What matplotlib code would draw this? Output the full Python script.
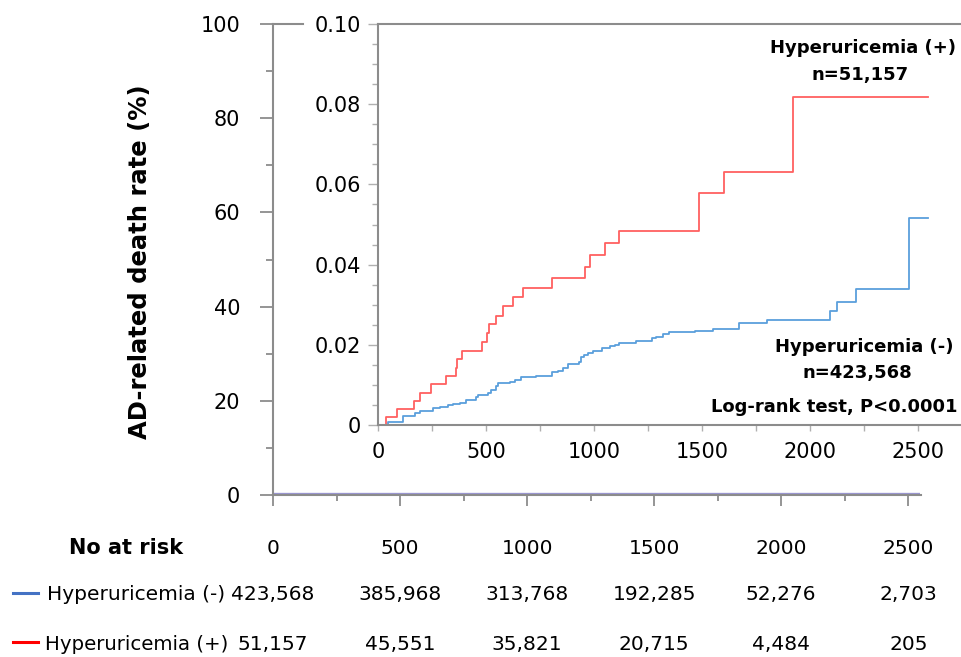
import matplotlib
matplotlib.use("Agg")
import matplotlib.pyplot as plt
from matplotlib.lines import Line2D
import matplotlib.transforms as mtransforms
import numpy as np

# ---- data (cumulative AD-related death rate, %) ----
red_t = [0, 37, 87, 168, 194, 245, 315, 361, 367, 388, 483, 503, 515, 545, 580, 624,
         673, 804, 958, 981, 1051, 1117, 1488, 1603, 1923, 2546]
red_v = [0, 0.0021, 0.0040, 0.0061, 0.0081, 0.0101, 0.0122, 0.0143, 0.0164, 0.0185,
         0.0208, 0.0229, 0.0251, 0.0273, 0.0297, 0.0319, 0.0342, 0.0367, 0.0395, 0.0423,
         0.0453, 0.0483, 0.0579, 0.0632, 0.0819, 0.0819]

blue_t = [0, 46, 116, 170, 193, 255, 286, 324, 347, 378, 409, 455, 463, 509, 524, 548,
          556, 610, 633, 663, 694, 733, 804, 835, 858, 881, 932, 940, 954, 974, 997,
          1036, 1074, 1097, 1117, 1194, 1267, 1287, 1318, 1349, 1468, 1550, 1673, 1802,
          2093, 2124, 2216, 2460, 2546]
blue_v = [0, 0.00082, 0.00232, 0.00292, 0.00349, 0.00416, 0.00456, 0.00499, 0.00524,
          0.00556, 0.00623, 0.00706, 0.00748, 0.00790, 0.00873, 0.00980, 0.01040,
          0.01065, 0.01122, 0.01190, 0.01205, 0.01230, 0.01314, 0.01354, 0.01414,
          0.01514, 0.01579, 0.01689, 0.01746, 0.01788, 0.01853, 0.01913, 0.01970,
          0.01995, 0.02052, 0.02102, 0.02162, 0.02202, 0.02269, 0.02311, 0.02344,
          0.02394, 0.02536, 0.02618, 0.02850, 0.03075, 0.03384, 0.05154, 0.05154]

risk_times = [0, 500, 1000, 1500, 2000, 2500]
risk_neg = ["423,568", "385,968", "313,768", "192,285", "52,276", "2,703"]
risk_pos = ["51,157", "45,551", "35,821", "20,715", "4,484", "205"]

outer_yticks = [0, 20, 40, 60, 80, 100]
inset_yticks = [0, 0.02, 0.04, 0.06, 0.08, 0.10]
inset_ylabels = ["0", "0.02", "0.04", "0.06", "0.08", "0.10"]
inset_xticks = [0, 500, 1000, 1500, 2000, 2500]

group_neg = "Hyperuricemia (-)"
group_pos = "Hyperuricemia (+)"
n_neg = "n=423,568"
n_pos = "n=51,157"
logrank = "Log-rank test, P<0.0001"

W, H = 961, 657
plt.rcParams['font.family'] = ['DejaVu Sans']
fig = plt.figure(figsize=(W / 100, H / 100), dpi=100)

def fx(px):
    return px / W

def fy(py):
    return 1 - py / H

spine_c = "#8c8c8c"

# ---- outer axes (0-100 %) ----
ax = fig.add_axes([fx(273), fy(495), fx(921) - fx(273), fy(24) - fy(495)])
ax.set_xlim(0, 2550)
ax.set_ylim(0, 100)
ax.step(blue_t, blue_v, where="post", color="#9a96d2", lw=3, solid_capstyle="butt")
ax.step(red_t, red_v, where="post", color="#9a96d2", lw=3, solid_capstyle="butt")
ax.spines["right"].set_visible(False)
ax.spines["top"].set_bounds(0, 118)
for s in ["left", "bottom", "top"]:
    ax.spines[s].set_color(spine_c)
    ax.spines[s].set_linewidth(1.5)
ax.set_yticks(outer_yticks)
ax.set_yticklabels([str(v) for v in outer_yticks])
ax.set_yticks(np.arange(10, 100, 20), minor=True)
ax.set_xticks(risk_times)
ax.set_xticks(np.arange(250, 2550, 500), minor=True)
ax.tick_params(axis="y", which="major", length=9.5, width=1.3, color=spine_c,
               labelsize=15, pad=14)
ax.tick_params(axis="y", which="minor", length=5, width=1.3, color=spine_c)
ax.tick_params(axis="x", which="major", length=8, width=1.3, color=spine_c,
               labelbottom=False)
ax.tick_params(axis="x", which="minor", length=4.3, width=1.3, color=spine_c)

# ---- inset axes ----
axi = fig.add_axes([fx(378), fy(425), 1 - fx(378), fy(24) - fy(425)])
axi.set_xlim(0, 2700)
axi.set_ylim(0, 0.10)
axi.step(red_t, red_v, where="post", color="#ff6060", lw=1.3)
axi.step(blue_t, blue_v, where="post", color="#5a9fdc", lw=1.3)
axi.spines["right"].set_visible(False)
for s in ["left", "bottom", "top"]:
    axi.spines[s].set_color(spine_c)
    axi.spines[s].set_linewidth(1.5)
axi.set_yticks(inset_yticks)
axi.set_yticklabels(inset_ylabels)
axi.set_yticks(np.arange(0.005, 0.1, 0.005), minor=True)
axi.set_xticks(inset_xticks)
axi.set_xticklabels([str(v) for v in inset_xticks])
axi.set_xticks(np.arange(250, 2700, 500), minor=True)
axi.tick_params(axis="y", which="major", length=7, width=1.0, color="#b0b0b0",
                labelsize=15, pad=5)
axi.tick_params(axis="y", which="minor", length=4, width=1.0, color="#b0b0b0")
axi.tick_params(axis="x", which="both", length=4.5, width=1.0, color="#b0b0b0",
                labelsize=15, pad=8)

axi.text(2245, 0.0940, group_pos, ha="center", va="center", fontsize=13, fontweight="bold")
axi.text(2231, 0.0873, n_pos, ha="center", va="center", fontsize=13, fontweight="bold")
axi.text(2250, 0.0195, group_neg, ha="center", va="center", fontsize=13, fontweight="bold")
axi.text(2222, 0.0130, n_neg, ha="center", va="center", fontsize=13, fontweight="bold")
axi.text(2685, 0.0045, logrank, ha="right", va="center", fontsize=13, fontweight="bold")

# ---- y label ----
fig.text(fx(140), fy(262), "AD-related death rate (%)", rotation=90, ha="center",
         va="center", fontsize=17.5, fontweight="bold")

# ---- number at risk table ----
trans = mtransforms.blended_transform_factory(ax.transData, fig.transFigure)
fig.text(fx(126), fy(548), "No at risk", ha="center", va="center", fontsize=15,
         fontweight="bold")
for t in risk_times:
    fig.text(t, fy(548), str(t), transform=trans, fontsize=14.5, ha="center", va="center")
for t, a, b in zip(risk_times, risk_neg, risk_pos):
    fig.text(t, fy(594), a, transform=trans, fontsize=14.5, ha="center", va="center")
    fig.text(t, fy(645), b, transform=trans, fontsize=14.5, ha="center", va="center")

fig.text(fx(47), fy(594), group_neg, ha="left", va="center", fontsize=14.5)
fig.text(fx(45), fy(645), group_pos, ha="left", va="center", fontsize=14.2)
fig.add_artist(Line2D([fx(13), fx(38)], [fy(593), fy(593)], color="#4472c4", lw=2.2))
fig.add_artist(Line2D([fx(13), fx(38)], [fy(642), fy(642)], color="#ff0000", lw=2.2))

fig.savefig("out.png", dpi=100)
